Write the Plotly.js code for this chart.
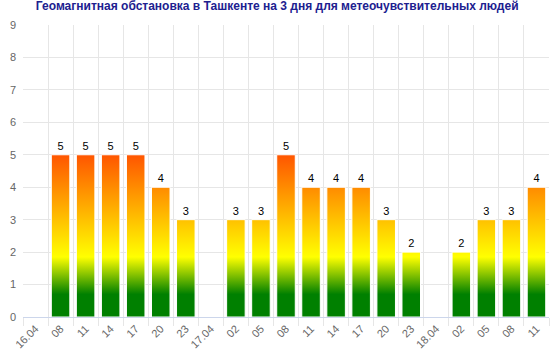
<!DOCTYPE html>
<html>
<head>
<meta charset="utf-8">
<script src="https://cdn.plot.ly/plotly-3.0.1.min.js"></script>
<style>html,body{margin:0;padding:0;background:#fff;}#chart{width:560px;height:352px;}</style>
</head>
<body>
<div id="chart"></div>
<script>
const tickLabels = ["16.04","08","11","14","17","20","23","17.04","02","05","08","11","14","17","20","23","18.04","02","05","08","11"];
const values = [null,5,5,5,5,4,3,null,3,3,5,4,4,4,3,2,null,2,3,3,4];
const positions = tickLabels.map((_, i) => i);
const titleText = "Геомагнитная обстановка в Ташкенте на 3 дня для метеочувствительных людей";

const trace = {
  type: "bar",
  x: positions,
  y: values,
  text: values.map(v => v === null ? "" : String(v)),
  textposition: "outside",
  textfont: {family: "Liberation Sans, Arial, sans-serif", size: 11, color: "#000"},
  cliponaxis: false,
  marker: {color: "#008000", line: {color: "#ffffff", width: 1}},
  hoverinfo: "none"
};

const layout = {
  width: 560, height: 352,
  margin: {l: 23, r: 11, t: 25, b: 35},
  paper_bgcolor: "#fff", plot_bgcolor: "#fff",
  bargap: 0.26,
  showlegend: false,
  font: {family: "Liberation Sans, Arial, sans-serif", size: 11, color: "#666"},
  title: {
    text: titleText,
    font: {family: "Liberation Sans, Arial, sans-serif", size: 12, color: "#20208f", weight: "bold"},
    x: 0.495, xanchor: "center", y: 0.996, yanchor: "top", yref: "container"
  },
  xaxis: {
    type: "linear",
    range: [-0.5, tickLabels.length - 0.5],
    tickmode: "array",
    tickvals: positions,
    ticktext: tickLabels,
    tickangle: -45,
    showgrid: false,
    zeroline: false,
    ticks: "",
    showline: true, linecolor: "#ccd6eb", linewidth: 1,
    tickfont: {size: 11, color: "#666"},
    minor: {tick0: -0.5, dtick: 1, showgrid: true, gridcolor: "#e6e6e6", gridwidth: 1, ticks: "outside", ticklen: 8, tickcolor: "#e6e6e6"},
    fixedrange: true
  },
  yaxis: {
    range: [0, 9],
    dtick: 1,
    showgrid: true, gridcolor: "#e6e6e6",
    zeroline: false,
    ticks: "", ticklabelstandoff: 6,
    tickfont: {size: 11, color: "#666"},
    fixedrange: true
  }
};

function applyGradient(gd) {
  const ya = gd._fullLayout.yaxis;
  const svg = gd.querySelector("svg.main-svg");
  let defs = svg.querySelector("defs");
  let grad = svg.querySelector("#barGrad");
  if (!grad) {
    grad = document.createElementNS("http://www.w3.org/2000/svg", "linearGradient");
    grad.setAttribute("id", "barGrad");
    grad.setAttribute("gradientUnits", "userSpaceOnUse");
    const stops = [[0, "#008000"], [0.14, "#008000"], [0.37, "#ffff00"], [1, "#ff5500"]];
    stops.forEach(([o, c]) => {
      const s = document.createElementNS("http://www.w3.org/2000/svg", "stop");
      s.setAttribute("offset", o);
      s.setAttribute("stop-color", c);
      grad.appendChild(s);
    });
    defs.appendChild(grad);
  }
  grad.setAttribute("x1", 0); grad.setAttribute("x2", 0);
  grad.setAttribute("y1", ya.l2p(0)); grad.setAttribute("y2", ya.l2p(5));
  gd.querySelectorAll(".bars .point path").forEach(p => { p.style.fill = "url(#barGrad)"; });
}

Plotly.newPlot("chart", [trace], layout, {displayModeBar: false, staticPlot: true}).then(gd => {
  applyGradient(gd);
  gd.on("plotly_afterplot", () => applyGradient(gd));
});
</script>
</body>
</html>
